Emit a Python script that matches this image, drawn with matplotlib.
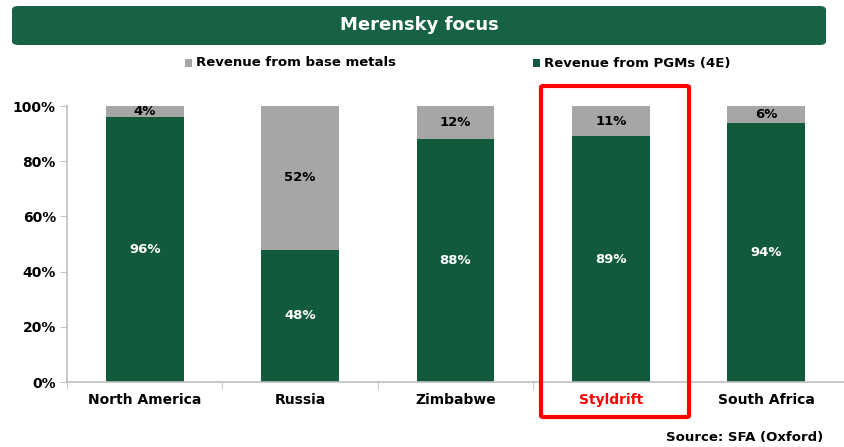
import matplotlib.pyplot as plt
from matplotlib.patches import FancyBboxPatch, Rectangle

# data
regions = ["North America", "Russia", "Zimbabwe", "Styldrift", "South Africa"]
pgm = [96, 48, 88, 89, 94]
base = [4, 52, 12, 11, 6]

green = "#125a3c"
banner = "#176144"
grey = "#a6a6a6"
red = "#ff0000"

plt.rcParams['font.family'] = ['DejaVu Sans']
fig = plt.figure(figsize=(8.44, 4.47), dpi=100)
ax = fig.add_axes([67/844, 1-382/447, 1-67/844, (382-106)/447])

x = range(len(regions))
ax.bar(x, pgm, width=0.5, color=green, zorder=2)
ax.bar(x, base, width=0.5, bottom=pgm, color=grey, zorder=2)

for i in x:
    ax.text(i, pgm[i]/2, f"{pgm[i]}%", ha="center", va="center", color="white",
            fontsize=9.5, fontweight="bold")
    ax.text(i, pgm[i] + base[i]/2, f"{base[i]}%", ha="center", va="center", color="black",
            fontsize=9.5, fontweight="bold")

ax.set_xlim(-0.5, len(regions) - 0.5)
ax.set_ylim(0, 100)
ax.set_yticks(range(0, 101, 20))
ax.set_yticklabels([f"{v}%" for v in range(0, 101, 20)], fontsize=10, fontweight="bold")
ax.set_xticks(list(x))
ax.set_xticklabels(regions, fontsize=10, fontweight="bold")
ax.get_xticklabels()[3].set_color(red)
ax.set_xticks([i + 0.5 for i in range(-1, len(regions))], minor=True)
ax.tick_params(axis="x", which="major", length=0, pad=8)
ax.tick_params(axis="x", which="minor", length=5, color="#bfbfbf", direction="out")
ax.tick_params(axis="y", length=5, color="#bfbfbf", pad=3)
for s in ["top", "right"]:
    ax.spines[s].set_visible(False)
ax.spines["left"].set_color("#bfbfbf")
ax.spines["bottom"].set_color("#bfbfbf")
ax.spines["left"].set_linewidth(1.2)
ax.spines["bottom"].set_linewidth(1.2)

# title banner
fig.patches.append(FancyBboxPatch((12/844, 1-45/447), 814/844, 39/447,
                                  boxstyle="round,pad=0,rounding_size=0.008",
                                  transform=fig.transFigure, facecolor=banner,
                                  edgecolor="none"))
fig.text(419/844, 1-25/447, "Merensky focus", ha="center", va="center",
         color="white", fontsize=13, fontweight="bold")

# legend
fig.patches.append(Rectangle((185/844, 1-67/447), 7/844, 8/447, transform=fig.transFigure,
                             facecolor=grey, edgecolor="none"))
fig.text(196/844, 1-63/447, "Revenue from base metals", ha="left", va="center",
         fontsize=9.5, fontweight="bold")
fig.patches.append(Rectangle((533/844, 1-67/447), 7/844, 8/447, transform=fig.transFigure,
                             facecolor=green, edgecolor="none"))
fig.text(544/844, 1-63/447, "Revenue from PGMs (4E)", ha="left", va="center",
         fontsize=9.5, fontweight="bold")

# highlight box
fig.patches.append(FancyBboxPatch((541/844, 1-417/447), 148/844, 331/447,
                                  boxstyle="round,pad=0,rounding_size=0.003",
                                  transform=fig.transFigure, facecolor="none",
                                  edgecolor=red, linewidth=3))

fig.text(823/844, 1-437/447, "Source: SFA (Oxford)", ha="right", va="center",
         fontsize=9.5, fontweight="bold")

fig.savefig("out.png", dpi=100)
